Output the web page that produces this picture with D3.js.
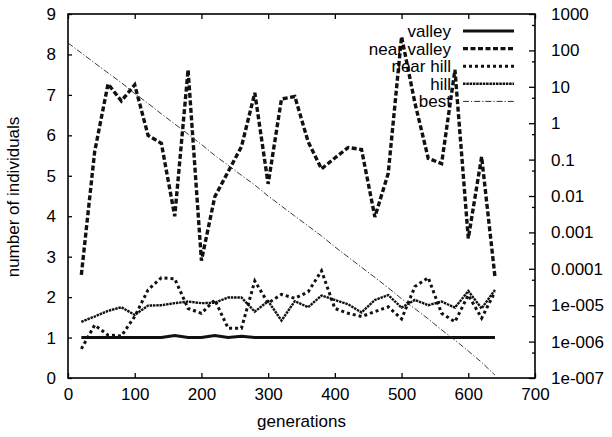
<!DOCTYPE html>
<html>
<head>
  <meta charset="UTF-8">
  <style>
    body { margin: 0; background: #fff; }
    text { font-family: "Liberation Sans", Arial, sans-serif; fill: #000; }
  </style>
  <title>number of individuals vs generations</title>
</head>
<body>
<script src="https://cdn.jsdelivr.net/npm/d3@7/dist/d3.min.js"></script>
<script>
// generations sampled every 20
var gens = [20, 40, 60, 80, 100, 120, 140, 160, 180, 200, 220, 240, 260, 280, 300, 320,
            340, 360, 380, 400, 420, 440, 460, 480, 500, 520, 540, 560, 580, 600, 620, 640];

var valley     = [1, 1, 1, 1, 1, 1, 1, 1.05, 1, 1, 1.05, 1, 1.03, 1, 1, 1,
                  1, 1, 1, 1, 1, 1, 1, 1, 1, 1, 1, 1, 1, 1, 1, 1];
var nearValley = [2.55, 5.6, 7.27, 6.85, 7.25, 6.0, 5.8, 4.0, 7.62, 2.9, 4.48, 5.1, 5.72, 7.05, 4.8, 6.9,
                  6.96, 5.84, 5.17, 5.44, 5.7, 5.65, 3.98, 5.06, 8.44, 6.8, 5.43, 5.3, 7.62, 3.45, 5.47, 2.5];
var nearHill   = [0.72, 1.31, 1.06, 1.04, 1.52, 2.18, 2.48, 2.45, 1.72, 1.6, 1.93, 1.23, 1.23, 2.4, 1.85, 2.07,
                  1.97, 2.13, 2.65, 1.72, 1.6, 1.52, 1.64, 1.76, 1.46, 2.26, 2.48, 1.6, 1.39, 2.05, 1.48, 2.13];
var hill       = [1.39, 1.52, 1.66, 1.75, 1.56, 1.79, 1.8, 1.85, 1.89, 1.85, 1.86, 1.99, 1.99, 1.64, 1.9, 1.42,
                  1.9, 1.75, 2.04, 1.93, 1.82, 1.62, 1.93, 2.05, 1.74, 1.93, 1.8, 1.89, 1.74, 2.15, 1.72, 2.18];

// best fitness, plotted on the right (log) axis
var bestGens = [0, 20, 40, 60, 80, 100, 120, 140, 160, 180, 200, 220, 240, 260, 280, 300, 320,
                340, 360, 380, 400, 420, 440, 460, 480, 500, 520, 540, 560, 580, 600, 620, 640];
var best = [160, 85, 45, 24, 13, 6.5, 3.5, 1.8, 0.95, 0.5, 0.26, 0.13, 0.07, 0.037, 0.02, 0.01, 0.0053,
            0.0028, 0.0015, 0.0008, 0.0004, 0.00021, 0.00011, 5.8e-5, 3e-5, 1.5e-5, 8e-6, 4.2e-6, 2.1e-6,
            1.1e-6, 5.5e-7, 2.7e-7, 1.2e-7];

var xTicks = [0, 100, 200, 300, 400, 500, 600, 700];
var yTicks = [0, 1, 2, 3, 4, 5, 6, 7, 8, 9];
var y2Ticks = [1e-7, 1e-6, 1e-5, 1e-4, 1e-3, 0.01, 0.1, 1, 10, 100, 1000];
var y2Labels = ["1e-007", "1e-006", "1e-005", "0.0001", "0.001", "0.01", "0.1", "1", "10", "100", "1000"];

var series = [
  { name: "valley",      values: valley,     width: 3,   dash: null },
  { name: "near valley", values: nearValley, width: 3.4, dash: "5,2.5" },
  { name: "near hill",   values: nearHill,   width: 3,   dash: "3,3" },
  { name: "hill",        values: hill,       width: 2.4, dash: "2.5,0.8" }
];

var width = 612, height = 437;
var plotLeft = 68, plotRight = 535, plotTop = 14, plotBottom = 378;

var x = d3.scaleLinear().domain([0, 700]).range([plotLeft, plotRight]);
var y = d3.scaleLinear().domain([0, 9]).range([plotBottom, plotTop]);
var y2 = d3.scaleLog().domain([1e-7, 1000]).range([plotBottom, plotTop]);

var svg = d3.select("body").append("svg")
  .attr("width", width)
  .attr("height", height);

var fontSize = "17px";

// bottom axis, ticks pointing inward
svg.append("g")
  .attr("transform", "translate(0," + plotBottom + ")")
  .call(d3.axisBottom(x).tickValues(xTicks).tickSize(-5).tickPadding(10));
// mirrored top ticks
svg.append("g")
  .attr("transform", "translate(0," + plotTop + ")")
  .call(d3.axisTop(x).tickValues(xTicks).tickSize(-5).tickFormat(""));

svg.append("g")
  .attr("transform", "translate(" + plotLeft + ",0)")
  .call(d3.axisLeft(y).tickValues(yTicks).tickSize(-4).tickPadding(12));

// right log axis
var minor = [];
y2Ticks.forEach(function(t) { if (t > 1e-7) minor.push(t / 2); });
svg.append("g")
  .attr("transform", "translate(" + plotRight + ",0)")
  .call(d3.axisRight(y2).tickValues(minor).tickSize(-3).tickFormat(""));
svg.append("g")
  .attr("transform", "translate(" + plotRight + ",0)")
  .call(d3.axisRight(y2).tickValues(y2Ticks).tickSize(-6).tickPadding(16)
    .tickFormat(function(d, i) { return y2Labels[i]; }));

svg.selectAll(".domain").remove();
svg.selectAll(".tick line").attr("stroke", "#000").attr("stroke-width", 1.3);
svg.selectAll(".tick text").attr("font-size", fontSize)
  .attr("font-family", "Liberation Sans, Arial, sans-serif");

// frame
svg.append("rect")
  .attr("x", plotLeft).attr("y", plotTop)
  .attr("width", plotRight - plotLeft).attr("height", plotBottom - plotTop)
  .attr("fill", "none").attr("stroke", "#000").attr("stroke-width", 1.6);

// lines
var line = d3.line()
  .x(function(d) { return x(d[0]); })
  .y(function(d) { return y(d[1]); });

series.forEach(function(s) {
  svg.append("path")
    .datum(gens.map(function(g, i) { return [g, s.values[i]]; }))
    .attr("d", line)
    .attr("fill", "none")
    .attr("stroke", "#111")
    .attr("stroke-width", s.width)
    .attr("stroke-dasharray", s.dash);
});

var bestLine = d3.line()
  .x(function(d) { return x(d[0]); })
  .y(function(d) { return y2(d[1]); });

svg.append("path")
  .datum(bestGens.map(function(g, i) { return [g, best[i]]; }))
  .attr("d", bestLine)
  .attr("fill", "none")
  .attr("stroke", "#222")
  .attr("stroke-width", 0.9)
  .attr("stroke-dasharray", "6,2,1.2,2");

// legend
var legend = svg.append("g");
var legendItems = series.concat([{ name: "best", width: 0.9, dash: "6,2,1.2,2" }]);
legendItems.forEach(function(s, i) {
  var ly = 31 + i * 17.6;
  legend.append("text")
    .attr("x", 451).attr("y", ly)
    .attr("dy", "0.35em")
    .attr("text-anchor", "end")
    .attr("font-size", fontSize)
    .text(s.name);
  legend.append("line")
    .attr("x1", 463).attr("x2", 514)
    .attr("y1", ly).attr("y2", ly)
    .attr("stroke", "#111")
    .attr("stroke-width", s.width)
    .attr("stroke-dasharray", s.dash);
});

// axis titles
svg.append("text")
  .attr("x", (plotLeft + plotRight) / 2).attr("y", 427)
  .attr("text-anchor", "middle")
  .attr("font-size", fontSize)
  .text("generations");

svg.append("text")
  .attr("transform", "translate(19,197) rotate(-90)")
  .attr("text-anchor", "middle")
  .attr("font-size", fontSize)
  .text("number of individuals");
</script>
</body>
</html>
